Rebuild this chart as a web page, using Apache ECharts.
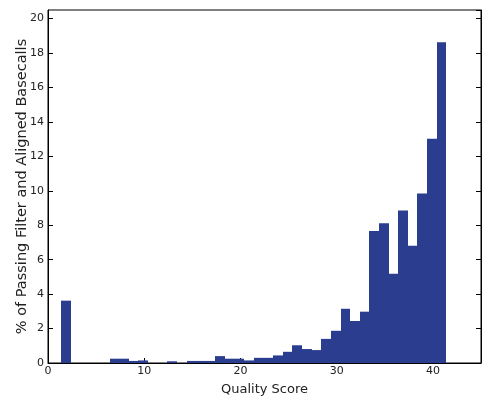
<!DOCTYPE html>
<html>
<head>
<meta charset="utf-8">
<script src="https://cdn.jsdelivr.net/npm/echarts@6/dist/echarts.min.js"></script>
<style>
  html, body { margin: 0; padding: 0; background: #fff; }
  #chart { width: 490px; height: 410px; }
</style>
</head>
<body>
<div id="chart"></div>
<script>
// 质量分数直方图
var scores = [2, 7, 8, 9, 10, 13, 15, 16, 17, 18, 19, 20, 21, 22, 23, 24, 25, 26, 27, 28, 29, 30, 31, 32, 33, 34, 35, 36, 37, 38, 39, 40, 41];
var percents = [3.62, 0.25, 0.25, 0.12, 0.15, 0.1, 0.12, 0.12, 0.12, 0.4, 0.25, 0.25, 0.15, 0.3, 0.3, 0.44, 0.65, 1.03, 0.81, 0.75, 1.4, 1.87, 3.15, 2.44, 2.98, 7.66, 8.12, 5.18, 8.86, 6.81, 9.84, 13.02, 18.63];
var xTicks = [0, 10, 20, 30, 40];
var yTicks = [0, 2, 4, 6, 8, 10, 12, 14, 16, 18, 20];

(function () {
  var myChart = echarts.init(document.getElementById('chart'));
  var font = 'DejaVu Sans';
  var data = scores.map(function (q, i) { return [q, percents[i]]; });

  var option = {
    animation: false,
    grid: {
      left: 48,
      right: 9,
      top: 10,
      bottom: 47,
      outerBoundsMode: 'none',
      show: true,
      borderColor: '#000',
      borderWidth: 1
    },
    xAxis: {
      type: 'value',
      min: 0,
      max: 45,
      interval: 10,
      name: 'Quality Score',
      nameLocation: 'middle',
      nameGap: 20,
      nameMoveOverlap: false,
      nameTextStyle: { fontFamily: font, fontSize: 13, color: '#222', verticalAlign: 'top' },
      axisLine: { show: true, lineStyle: { color: '#000', width: 1 } },
      axisTick: { show: true, inside: true, length: 5, lineStyle: { color: '#000' } },
      axisLabel: {
        fontFamily: font, fontSize: 11, color: '#222', margin: 3,
        showMaxLabel: false,
        formatter: function (v) { return xTicks.indexOf(v) >= 0 ? v : ''; }
      },
      splitLine: { show: false }
    },
    yAxis: [
      {
        type: 'value',
        min: 0,
        max: 20.5,
        interval: 2,
        name: '% of Passing Filter and Aligned Basecalls',
        nameLocation: 'middle',
        nameGap: 18,
        nameMoveOverlap: false,
        nameTextStyle: { fontFamily: font, fontSize: 14.5, color: '#222' },
        axisLine: { show: true, lineStyle: { color: '#000', width: 1 } },
        axisTick: { show: true, inside: true, length: 5, lineStyle: { color: '#000' } },
        axisLabel: {
          fontFamily: font, fontSize: 11, color: '#222', margin: 4,
          showMaxLabel: false,
          formatter: function (v) { return yTicks.indexOf(v) >= 0 ? v : ''; }
        },
        splitLine: { show: false }
      },
      {
        type: 'value',
        position: 'right',
        min: 0,
        max: 20.5,
        interval: 2,
        axisLine: { show: true, lineStyle: { color: '#000', width: 1 } },
        axisTick: { show: true, inside: true, length: 5, lineStyle: { color: '#000' } },
        axisLabel: { show: false },
        splitLine: { show: false }
      }
    ],
    series: [
      {
        type: 'custom',
        // 每个柱子占一个分数单位，x取整避免柱子之间出现缝
        renderItem: function (params, api) {
          var q = api.value(0);
          var v = api.value(1);
          var p0 = api.coord([q - 0.6, v]);
          var p1 = api.coord([q + 0.4, 0]);
          var x0 = Math.round(p0[0]);
          var x1 = Math.round(p1[0]);
          return {
            type: 'rect',
            shape: { x: x0, y: p0[1], width: x1 - x0, height: p1[1] - p0[1] },
            style: { fill: '#2b3d8f' }
          };
        },
        encode: { x: 0, y: 1 },
        data: data
      }
    ]
  };
  myChart.setOption(option);
  window.addEventListener('resize', function () {
    myChart.resize();
  });
})();
</script>
</body>
</html>
